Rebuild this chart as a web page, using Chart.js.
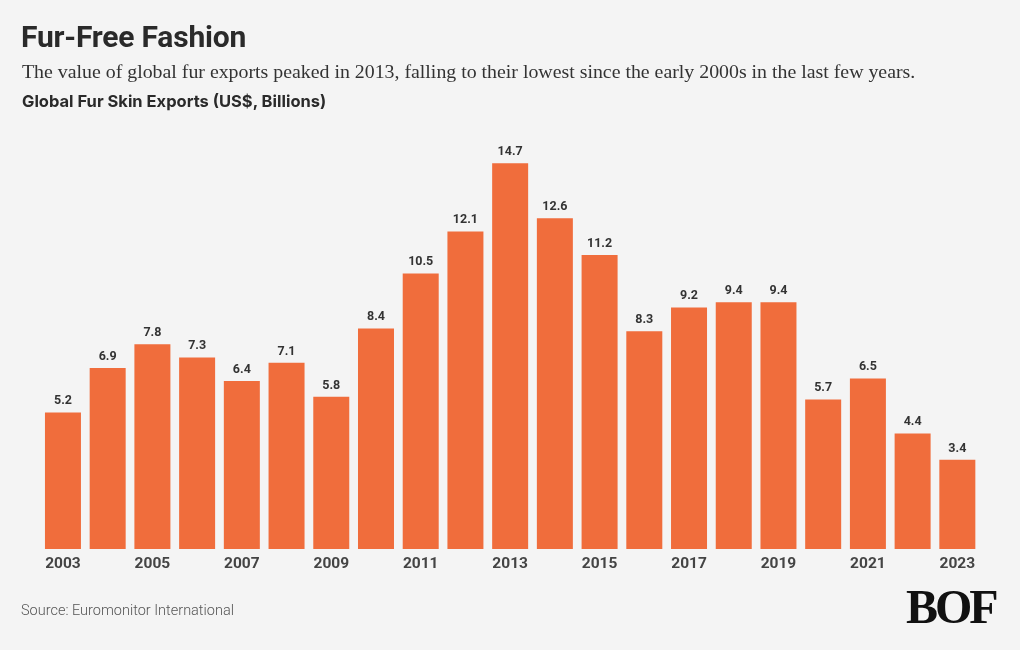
<!DOCTYPE html>
<html>
<head>
<meta charset="utf-8">
<script src="https://cdn.jsdelivr.net/npm/chart.js@4.4.1/dist/chart.umd.min.js"></script>
<style>
  html, body { margin: 0; padding: 0; background: #f4f4f4; }
  #wrap { position: relative; width: 1020px; height: 650px; overflow: hidden; }
  #box { position: absolute; left: 0; top: 0; width: 1020px; height: 650px; }
  .t { position: absolute; white-space: nowrap; }
  #title { left: 21px; top: 19px; font: 700 30px Roboto, sans-serif; color: #2a2a2a; letter-spacing: -0.2px; }
  #sub { left: 22px; top: 60px; font: 19.85px "Liberation Serif", serif; color: #333; }
  #lab { left: 22px; top: 91px; font: 700 16.5px Inter, sans-serif; color: #2a2a2a; }
  #src { left: 21px; top: 602px; font: 300 14.5px Roboto, sans-serif; color: #555; }
  #logo { left: 906px; top: 579px; font: 700 48px "Liberation Serif", serif; color: #111; letter-spacing: -3px; }
</style>
</head>
<body>
<div id="wrap">
  <div id="box"><canvas id="chart"></canvas></div>
  <div class="t" id="title">Fur-Free Fashion</div>
  <div class="t" id="sub">The value of global fur exports peaked in 2013, falling to their lowest since the early 2000s in the last few years.</div>
  <div class="t" id="lab">Global Fur Skin Exports (US$, Billions)</div>
  <div class="t" id="src">Source: Euromonitor International</div>
  <div class="t" id="logo">BOF</div>
</div>
<script>
const years = ['2003','2004','2005','2006','2007','2008','2009','2010','2011','2012','2013',
  '2014','2015','2016','2017','2018','2019','2020','2021','2022','2023'];
const exportsBn = [5.2, 6.9, 7.8, 7.3, 6.4, 7.1, 5.8, 8.4, 10.5, 12.1, 14.7,
  12.6, 11.2, 8.3, 9.2, 9.4, 9.4, 5.7, 6.5, 4.4, 3.4];

// value labels above each bar
const barLabels = {
  id: 'barLabels',
  afterDatasetsDraw(chart) {
    const ctx = chart.ctx;
    const meta = chart.getDatasetMeta(0);
    ctx.save();
    ctx.font = '700 12.5px Roboto, sans-serif';
    ctx.fillStyle = '#333';
    ctx.textAlign = 'center';
    ctx.textBaseline = 'bottom';
    meta.data.forEach((bar, i) => {
      ctx.fillText(exportsBn[i].toFixed(1), bar.x, bar.y - 5);
    });
    ctx.restore();
  }
};

new Chart(document.getElementById('chart'), {
  type: 'bar',
  data: {
    labels: years,
    datasets: [{
      data: exportsBn,
      backgroundColor: '#f06d3c',
      borderWidth: 0,
      barPercentage: 0.805,
      categoryPercentage: 1
    }]
  },
  options: {
    responsive: true,
    maintainAspectRatio: false,
    animation: false,
    layout: { padding: { left: 40.6, right: 40.3, top: 129, bottom: 71 } },
    plugins: { legend: { display: false }, tooltip: { enabled: false } },
    scales: {
      x: {
        grid: { display: false },
        border: { display: false },
        afterFit(scale) { scale.height = 30; },
        ticks: {
          autoSkip: false,
          maxRotation: 0,
          padding: -2,
          color: '#444',
          font: { family: 'Roboto, sans-serif', size: 15.5, weight: '700' },
          callback(val, i) { return i % 2 === 0 ? years[i] : ''; }
        }
      },
      y: { display: false, min: 0, max: 16 }
    }
  },
  plugins: [barLabels]
});
</script>
</body>
</html>
